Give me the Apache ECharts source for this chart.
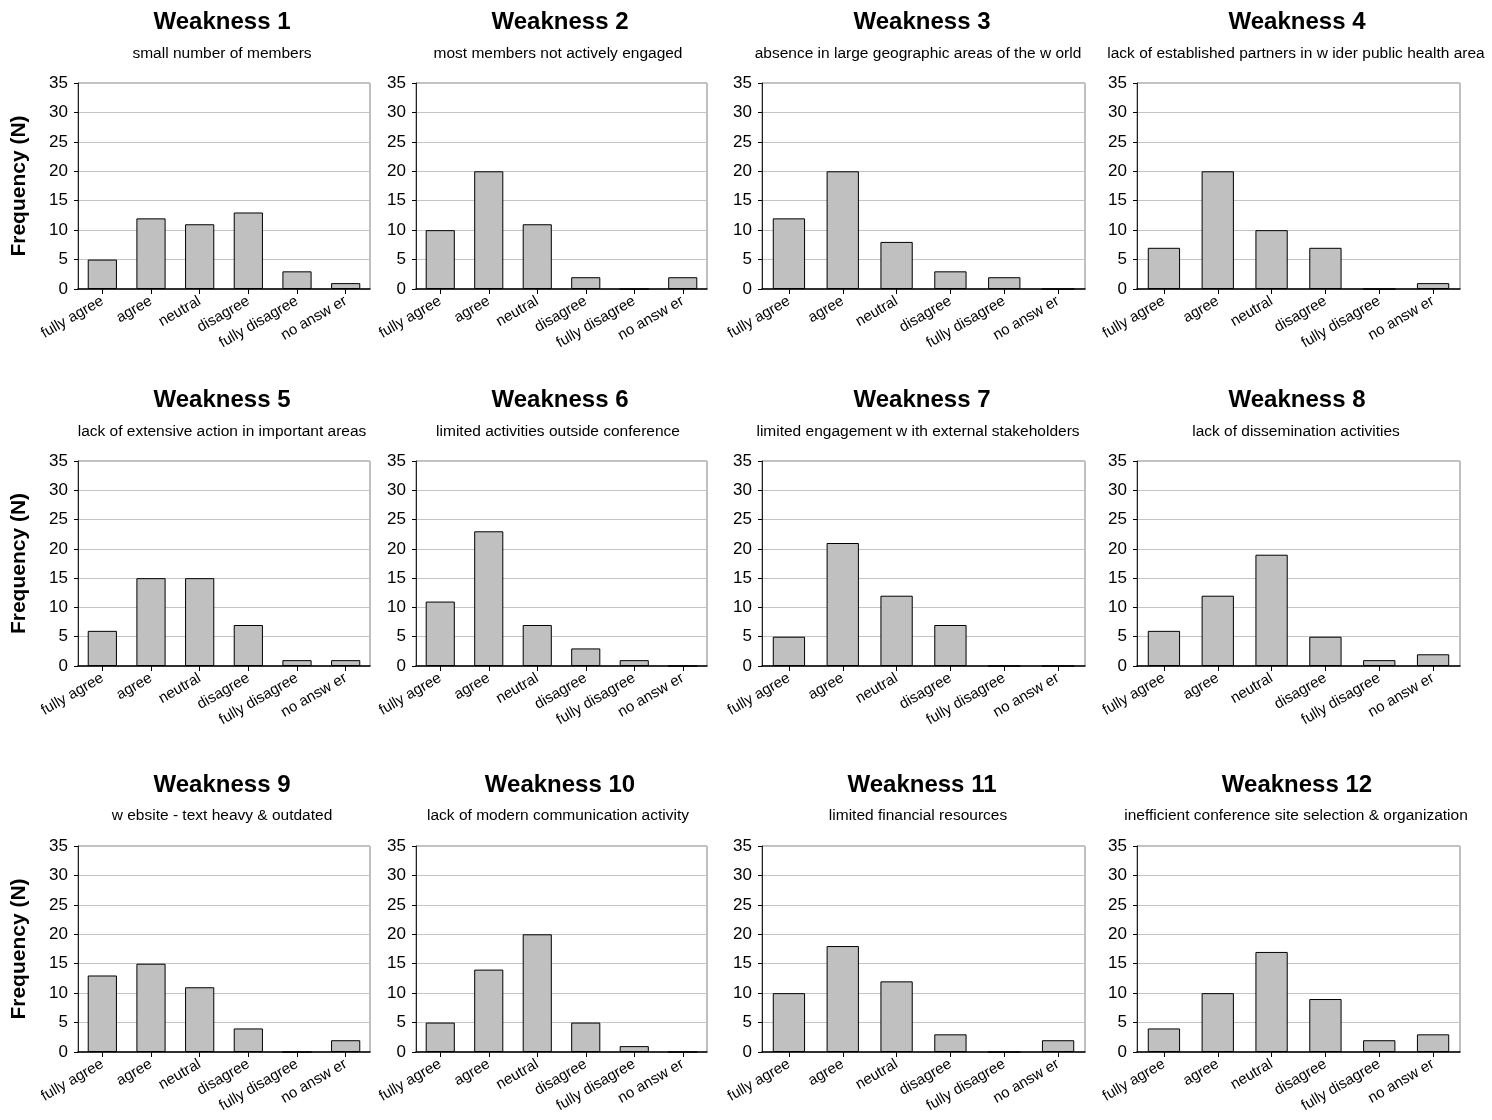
<!DOCTYPE html>
<html>
<head>
<meta charset="utf-8">
<script src="https://cdn.jsdelivr.net/npm/echarts@6/dist/echarts.min.js"></script>
<style>
html,body{margin:0;padding:0;background:#fff;}
#chart{width:1492px;height:1120px;}
</style>
</head>
<body>
<div id="chart"></div>
<script>
const categories = ['fully agree', 'agree', 'neutral', 'disagree', 'fully disagree', 'no answ er'];
const yTicks = [0, 5, 10, 15, 20, 25, 30, 35];
const titles = ['Weakness 1','Weakness 2','Weakness 3','Weakness 4','Weakness 5','Weakness 6','Weakness 7','Weakness 8','Weakness 9','Weakness 10','Weakness 11','Weakness 12'];
const subtitles = [
  'small number of members',
  'most members not actively engaged',
  'absence in large geographic areas of the w orld',
  'lack of established partners in w ider public health area',
  'lack of extensive action in important areas',
  'limited activities outside conference',
  'limited engagement w ith external stakeholders',
  'lack of dissemination activities',
  'w ebsite - text heavy & outdated',
  'lack of modern communication activity',
  'limited financial resources',
  'inefficient conference site selection & organization'
];
const yAxisName = 'Frequency (N)';

const w1  = [5, 12, 11, 13, 3, 1];
const w2  = [10, 20, 11, 2, 0, 2];
const w3  = [12, 20, 8, 3, 2, 0];
const w4  = [7, 20, 10, 7, 0, 1];
const w5  = [6, 15, 15, 7, 1, 1];
const w6  = [11, 23, 7, 3, 1, 0];
const w7  = [5, 21, 12, 7, 0, 0];
const w8  = [6, 12, 19, 5, 1, 2];
const w9  = [13, 15, 11, 4, 0, 2];
const w10 = [5, 14, 20, 5, 1, 0];
const w11 = [10, 18, 12, 3, 0, 2];
const w12 = [4, 10, 17, 9, 2, 3];
const seriesData = [w1, w2, w3, w4, w5, w6, w7, w8, w9, w10, w11, w12];

// layout (pixels)
const colX = [[78, 292], [416, 291], [762, 323], [1137, 323]];
const rowY = [[83, 206], [461, 205], [846, 206]];
const titleCX = [217, 555, 917, 1292];
const subCX = [217, 553, 913, 1291];
const titleTop = [5, 383, 768];
const subTop = [41, 419, 803];

const FONT = '"Liberation Sans", Arial, sans-serif';

const option = {
  backgroundColor: '#fff',
  animation: false,
  title: [], grid: [], xAxis: [], yAxis: [], series: []
};

for (let i = 0; i < 12; i++) {
  const r = Math.floor(i / 4), c = i % 4;
  option.title.push({
    text: titles[i], left: titleCX[c], top: titleTop[r], textAlign: 'center',
    textStyle: {fontFamily: FONT, fontSize: 24, fontWeight: 'bold', color: '#000'}
  });
  option.title.push({
    text: subtitles[i], left: subCX[c], top: subTop[r], textAlign: 'center',
    textStyle: {fontFamily: FONT, fontSize: 15.5, fontWeight: 'normal', color: '#000'}
  });
  option.grid.push({
    left: colX[c][0], width: colX[c][1], top: rowY[r][0], height: rowY[r][1],
    show: true, borderColor: '#808080', borderWidth: 1, backgroundColor: '#fff'
  });
  option.xAxis.push({
    type: 'category', gridIndex: i, data: categories,
    axisLine: {lineStyle: {color: '#000', width: 1.5}},
    axisTick: {show: true, alignWithLabel: true, length: 5, lineStyle: {color: '#000'}},
    axisLabel: {rotate: 30, margin: 11, interval: 0, fontFamily: FONT, fontSize: 15, color: '#000'},
    splitLine: {show: false}
  });
  option.yAxis.push({
    type: 'value', gridIndex: i, min: 0, max: 35, interval: 5,
    name: c === 0 ? yAxisName : '',
    nameLocation: 'middle', nameGap: 48,
    nameTextStyle: {fontFamily: FONT, fontSize: 21, fontWeight: 'bold', color: '#000'},
    axisLine: {show: true, lineStyle: {color: '#222', width: 1}},
    axisTick: {show: true, length: 4, lineStyle: {color: '#000'}},
    axisLabel: {margin: 10, fontFamily: FONT, fontSize: 17, color: '#000',
      formatter: v => (yTicks.indexOf(v) >= 0 ? String(v) : '')},
    splitLine: {show: true, lineStyle: {color: '#c4c4c4', width: 1}}
  });
  option.series.push({
    type: 'bar', xAxisIndex: i, yAxisIndex: i, data: seriesData[i],
    barWidth: '60%',
    itemStyle: {color: '#c0c0c0', borderColor: '#000', borderWidth: 1}
  });
}

const chart = echarts.init(document.getElementById('chart'), null, {renderer: 'canvas'});
chart.setOption(option);
</script>
</body>
</html>
